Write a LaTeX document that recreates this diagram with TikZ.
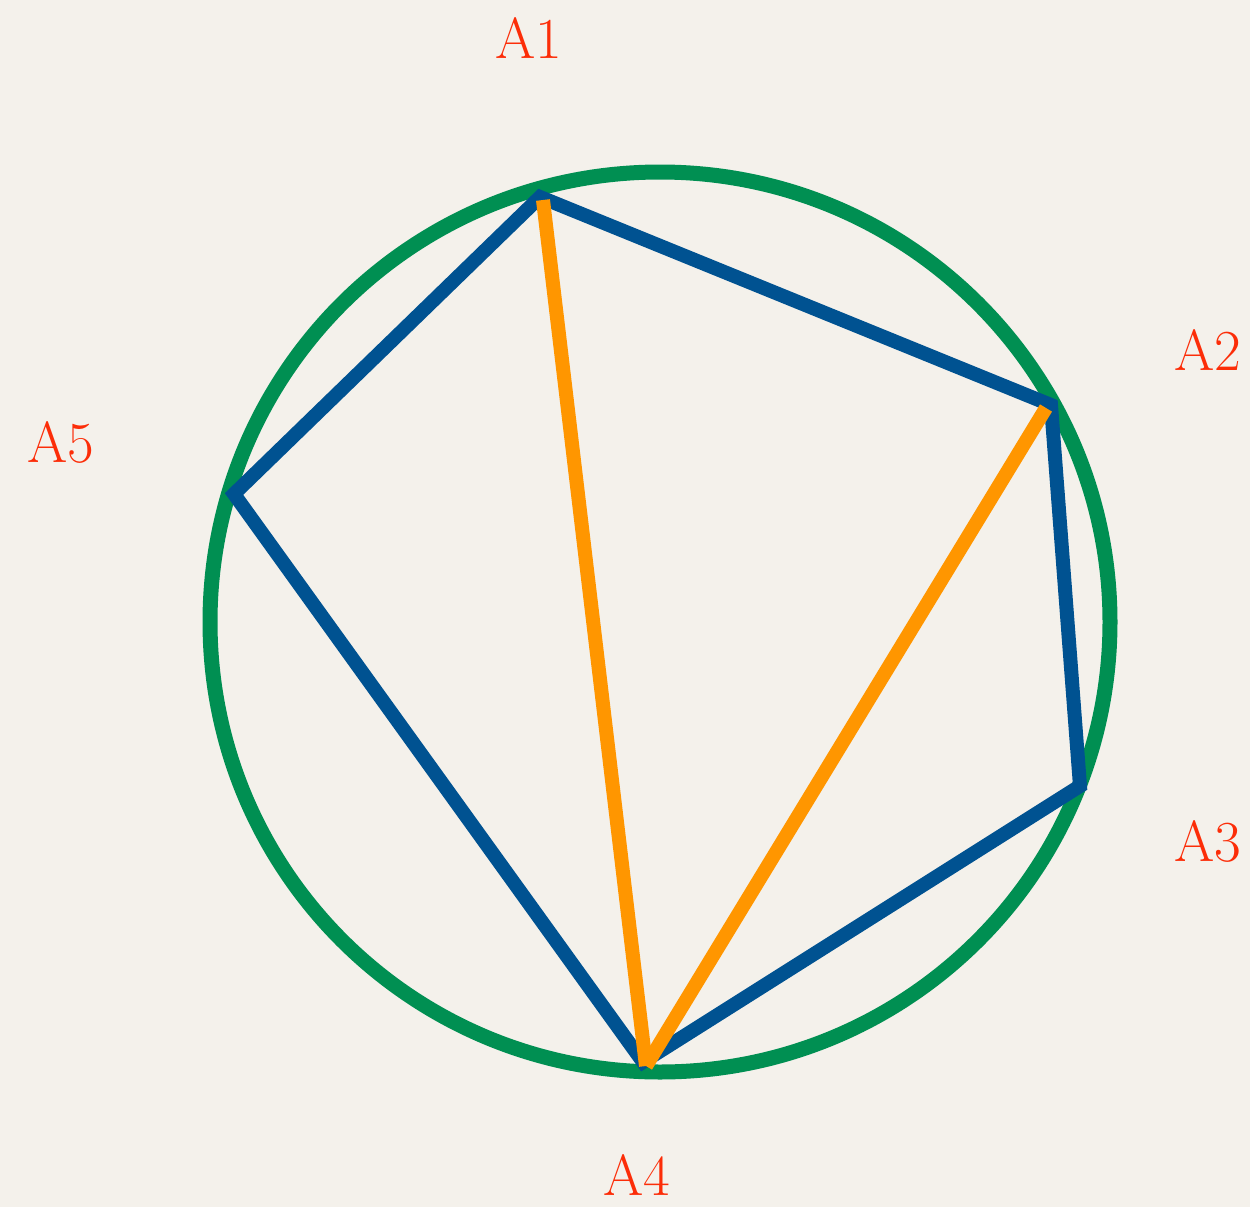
\documentclass[tikz,border=0pt]{standalone}
\definecolor{paper}{RGB}{244,241,235}
\definecolor{ringgreen}{RGB}{0,143,82}
\definecolor{polyblue}{RGB}{0,82,145}
\definecolor{chordorange}{RGB}{255,150,0}
\definecolor{labelred}{RGB}{252,45,8}
\tikzset{
  ring/.style={draw=ringgreen, line width=15pt},
  poly/.style={draw=polyblue, line width=14pt, line join=miter},
  chord/.style={draw=chordorange, line width=14pt, line cap=butt},
  lbl/.style={text=labelred, font=\fontsize{58}{64}\selectfont, inner sep=0pt}
}
\begin{document}
\begin{tikzpicture}[x=1pt,y=-1pt]
\fill[paper] (0,0) rectangle (1250,1207);
\useasboundingbox (0,0) rectangle (1250,1207);
\coordinate (O) at (660,622);
\draw[ring] (O) circle[radius=450];
\coordinate (P1) at (540,197);
\coordinate (P2) at (1051,405);
\coordinate (P3) at (1080,786);
\coordinate (P4) at (643,1062);
\coordinate (P5) at (234,494);
\draw[poly] (P1) -- (P2) -- (P3) -- (P4) -- (P5) -- cycle;
\coordinate (Q1) at (543,200);
\coordinate (Q2) at (1046,408);
\coordinate (Q4) at (646,1066);
\draw[chord] (Q1) -- (Q4);
\draw[chord] (Q2) -- (Q4);
\node[lbl] (L1) at (529,38) {A1};
\node[lbl] (L2) at (1208,350) {A2};
\node[lbl] (L3) at (1208,841) {A3};
\node[lbl] (L4) at (637,1175) {A4};
\node[lbl] (L5) at (61,442) {A5};
\end{tikzpicture}
\end{document}
